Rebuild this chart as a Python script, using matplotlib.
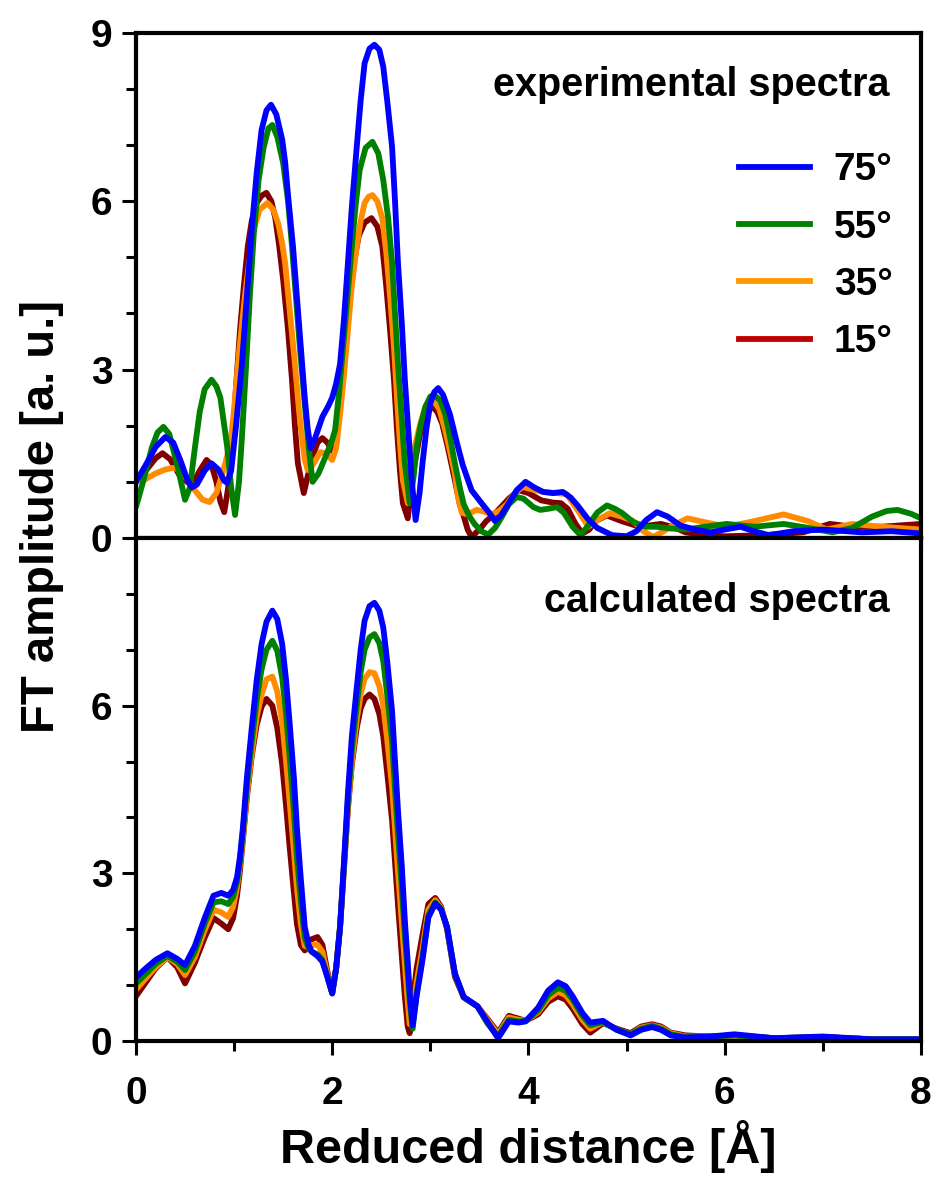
import matplotlib
matplotlib.use("Agg")
import matplotlib.pyplot as plt
from matplotlib.lines import Line2D
from matplotlib.ticker import MultipleLocator

plt.rcParams['font.family'] = ['Liberation Sans', 'DejaVu Sans']
plt.rcParams['font.weight'] = 'bold'

labels = ['75°', '55°', '35°', '15°']
curve_colors = ['#0000FF', '#008000', '#FF8C00', '#800000']
legend_colors = ['#0000FF', '#008000', '#FF9900', '#C00000']

# experimental spectra (top panel)
x_exp_75 = [0.0, 0.1, 0.2, 0.3, 0.38, 0.46, 0.52, 0.57, 0.62, 0.7, 0.77, 0.84, 0.9, 0.93, 0.97,
            1.02, 1.08, 1.13, 1.18, 1.23, 1.28, 1.33, 1.376, 1.43, 1.49, 1.52, 1.55, 1.6, 1.64,
            1.68, 1.72, 1.75, 1.78, 1.82, 1.9, 1.96, 2.0, 2.04, 2.08, 2.12, 2.16, 2.2, 2.25,
            2.29, 2.33, 2.38, 2.43, 2.48, 2.52, 2.56, 2.61, 2.64, 2.67, 2.71, 2.74, 2.78, 2.81,
            2.85, 2.89, 2.92, 2.96, 3.0, 3.04, 3.08, 3.13, 3.2, 3.27, 3.33, 3.42, 3.54, 3.6,
            3.66, 3.72, 3.8, 3.88, 3.97, 4.06, 4.15, 4.25, 4.35, 4.43, 4.5, 4.6, 4.7, 4.85,
            5.0, 5.1, 5.2, 5.31, 5.42, 5.55, 5.7, 5.85, 6.0, 6.16, 6.3, 6.45, 6.7, 7.0, 7.4,
            7.7, 8.0]
y_exp_75 = [1.0, 1.3, 1.62, 1.8, 1.7, 1.35, 1.05, 0.9, 0.95, 1.2, 1.33, 1.22, 1.02, 0.98, 1.2,
            2.0, 3.1, 4.3, 5.5, 6.5, 7.27, 7.62, 7.72, 7.55, 7.1, 6.7, 6.1, 5.2, 4.3,
            3.4, 2.5, 1.95, 1.6, 1.75, 2.16, 2.35, 2.5, 2.75, 3.1, 3.9, 4.9, 5.9, 6.97,
            7.8, 8.46, 8.72, 8.79, 8.7, 8.4, 7.8, 6.97, 6.0, 4.9, 3.8, 2.82, 1.8, 1.03,
            0.32, 0.8, 1.33, 1.95, 2.4, 2.6, 2.67, 2.55, 2.2, 1.7, 1.3, 0.85, 0.58, 0.45,
            0.3, 0.4, 0.62, 0.85, 1.0, 0.9, 0.82, 0.8, 0.82, 0.72, 0.58, 0.35, 0.18, 0.05,
            0.03, 0.12, 0.32, 0.46, 0.38, 0.22, 0.15, 0.1, 0.15, 0.2, 0.12, 0.05, 0.12, 0.15, 0.1,
            0.12, 0.08]

x_exp_55 = [0.0, 0.08, 0.16, 0.22, 0.28, 0.34, 0.42, 0.5, 0.55, 0.6, 0.65, 0.7, 0.77, 0.82, 0.86,
            0.9, 0.93, 0.97, 1.01, 1.05, 1.08, 1.12, 1.16, 1.2, 1.25, 1.3, 1.35, 1.39, 1.44,
            1.5, 1.55, 1.59, 1.63, 1.67, 1.72, 1.76, 1.8, 1.86, 1.93, 2.0, 2.03, 2.07, 2.11,
            2.16, 2.2, 2.24, 2.28, 2.34, 2.41, 2.47, 2.52, 2.57, 2.61, 2.64, 2.67, 2.71, 2.74,
            2.79, 2.83, 2.86, 2.9, 2.95, 3.0, 3.04, 3.1, 3.15, 3.2, 3.25, 3.3, 3.34, 3.4,
            3.45, 3.52, 3.59, 3.66, 3.72, 3.8, 3.88, 3.95, 4.05, 4.12, 4.2, 4.29, 4.36, 4.45,
            4.53, 4.6, 4.7, 4.8, 4.88, 4.95, 5.07, 5.2, 5.3, 5.45, 5.6, 5.8, 6.02, 6.3, 6.6,
            6.85, 7.1, 7.3, 7.5, 7.65, 7.76, 7.9, 8.0]
y_exp_55 = [0.55, 1.05, 1.6, 1.88, 1.98, 1.85, 1.3, 0.68, 0.9, 1.6, 2.25, 2.65, 2.82, 2.7, 2.5,
            2.0, 1.62, 0.9, 0.41, 1.0, 1.8, 3.0, 4.3, 5.4, 6.38, 6.95, 7.3, 7.36, 7.15,
            6.68, 6.0, 5.2, 4.3, 3.4, 2.4, 1.62, 1.0, 1.15, 1.44, 1.75, 1.93, 2.6, 3.4,
            4.4, 5.2, 5.95, 6.56, 6.95, 7.06, 6.85, 6.38, 5.7, 4.9, 4.0, 3.1, 2.1, 1.33,
            0.62, 1.1, 1.62, 2.0, 2.34, 2.52, 2.55, 2.45, 2.22, 1.8, 1.33, 0.9, 0.6, 0.38,
            0.25, 0.12, 0.06, 0.18, 0.35, 0.6, 0.73, 0.7, 0.55, 0.5, 0.52, 0.55, 0.45, 0.2,
            0.05, 0.2, 0.45, 0.58, 0.52, 0.45, 0.28, 0.2, 0.2, 0.17, 0.15, 0.2, 0.25, 0.2, 0.25,
            0.18, 0.1, 0.18, 0.38, 0.48, 0.5, 0.43, 0.35]

x_exp_35 = [0.0, 0.1, 0.2, 0.3, 0.38, 0.45, 0.52, 0.6, 0.68, 0.75, 0.82, 0.89, 0.95, 0.98, 1.0,
            1.05, 1.11, 1.16, 1.2, 1.26, 1.34, 1.4, 1.45, 1.49, 1.52, 1.57, 1.62, 1.66, 1.69,
            1.72, 1.75, 1.8, 1.88, 1.94, 2.0, 2.04, 2.08, 2.12, 2.16, 2.2, 2.25, 2.29, 2.33,
            2.37, 2.41, 2.46, 2.51, 2.55, 2.59, 2.63, 2.66, 2.69, 2.72, 2.77, 2.8, 2.84, 2.9,
            2.95, 3.0, 3.03, 3.09, 3.15, 3.2, 3.25, 3.28, 3.32, 3.38, 3.47, 3.55, 3.62, 3.7,
            3.78, 3.86, 3.94, 4.05, 4.15, 4.28, 4.39, 4.5, 4.61, 4.7, 4.83, 4.95, 5.07, 5.17,
            5.27, 5.36, 5.45, 5.62, 5.8, 6.02, 6.3, 6.6, 6.85, 7.04, 7.3, 7.6, 8.0]
y_exp_35 = [1.0, 1.05, 1.15, 1.22, 1.25, 1.2, 1.05, 0.85, 0.68, 0.64, 0.8, 1.2, 1.6, 1.95, 2.3,
            3.3, 4.3, 5.0, 5.5, 5.85, 5.97, 5.85, 5.6, 5.25, 4.9, 4.0, 3.1, 2.3, 1.8,
            1.4, 1.21, 1.3, 1.53, 1.5, 1.39, 1.6, 2.2, 2.9, 3.7, 4.5, 5.2, 5.65, 5.97,
            6.08, 6.11, 6.0, 5.7, 5.1, 4.3, 3.4, 2.5, 1.7, 1.03, 0.62, 1.0, 1.62, 2.05,
            2.34, 2.45, 2.46, 2.3, 1.93, 1.55, 1.15, 0.75, 0.45, 0.42, 0.5, 0.47, 0.42, 0.48,
            0.6, 0.8, 0.91, 0.86, 0.82, 0.8, 0.78, 0.5, 0.2, 0.32, 0.44, 0.38, 0.3, 0.12,
            0.02, 0.1, 0.2, 0.35, 0.28, 0.2, 0.3, 0.42, 0.3, 0.15, 0.25, 0.2, 0.15]

x_exp_15 = [0.0, 0.1, 0.2, 0.27, 0.35, 0.45, 0.57, 0.65, 0.72, 0.77, 0.82, 0.86, 0.9, 0.94, 0.99,
            1.02, 1.06, 1.1, 1.14, 1.18, 1.23, 1.28, 1.33, 1.38, 1.42, 1.46, 1.5, 1.55, 1.59,
            1.62, 1.65, 1.71, 1.75, 1.8, 1.85, 1.9, 1.95, 2.0, 2.05, 2.1, 2.14, 2.18, 2.22,
            2.27, 2.33, 2.4, 2.46, 2.51, 2.55, 2.59, 2.63, 2.66, 2.69, 2.72, 2.77, 2.8, 2.84,
            2.9, 2.95, 3.02, 3.07, 3.12, 3.18, 3.25, 3.3, 3.33, 3.38, 3.42, 3.5, 3.57, 3.65,
            3.72, 3.8, 3.9, 4.0, 4.13, 4.25, 4.33, 4.4, 4.48, 4.55, 4.62, 4.68, 4.8, 4.95,
            5.13, 5.35, 5.5, 5.6, 5.8, 6.0, 6.4, 6.8, 7.07, 7.3, 7.6, 8.0]
y_exp_15 = [1.0, 1.2, 1.42, 1.51, 1.4, 1.1, 0.93, 1.2, 1.39, 1.3, 1.0, 0.65, 0.46, 0.9, 1.8,
            2.7, 3.7, 4.5, 5.2, 5.65, 5.97, 6.1, 6.15, 6.0, 5.7, 5.2, 4.6, 3.7, 2.82,
            2.0, 1.33, 0.8, 1.1, 1.45, 1.7, 1.78, 1.7, 1.55, 2.1, 2.8, 3.6, 4.3, 4.9,
            5.38, 5.62, 5.7, 5.55, 5.2, 4.5, 3.7, 2.8, 1.93, 1.2, 0.62, 0.35, 0.8, 1.33,
            1.9, 2.22, 2.34, 2.25, 2.04, 1.6, 1.03, 0.6, 0.45, 0.15, 0.02, 0.15, 0.3, 0.42,
            0.55, 0.7, 0.85, 0.8, 0.67, 0.63, 0.62, 0.52, 0.25, 0.08, 0.15, 0.3, 0.4, 0.3,
            0.2, 0.25, 0.18, 0.1, 0.05, 0.03, 0.05, 0.1, 0.25, 0.2, 0.2, 0.25]

# calculated spectra (bottom panel)
x_calc = [0.0, 0.1, 0.2, 0.32, 0.42, 0.5, 0.6, 0.7, 0.79, 0.87, 0.94, 0.99, 1.03, 1.06, 1.09,
          1.13, 1.18, 1.23, 1.28, 1.33, 1.39, 1.44, 1.49, 1.53, 1.57, 1.61, 1.64, 1.68, 1.72,
          1.76, 1.79, 1.85, 1.9, 1.95, 2.0, 2.04, 2.08, 2.12, 2.16, 2.2, 2.25, 2.29, 2.33,
          2.38, 2.43, 2.48, 2.52, 2.56, 2.61, 2.64, 2.67, 2.71, 2.74, 2.77, 2.79, 2.82, 2.86,
          2.92, 2.98, 3.05, 3.11, 3.17, 3.25, 3.34, 3.48, 3.58, 3.69, 3.8, 3.9, 3.97, 4.1,
          4.2, 4.3, 4.38, 4.45, 4.55, 4.63, 4.76, 4.9, 5.04, 5.15, 5.26, 5.35, 5.45, 5.6,
          5.85, 6.1, 6.5, 7.0, 7.5, 8.0]
y_calc_75 = [1.14, 1.3, 1.45, 1.57, 1.47, 1.36, 1.7, 2.2, 2.6, 2.65, 2.6, 2.7, 2.93, 3.3, 3.82,
             4.7, 5.6, 6.45, 7.1, 7.5, 7.7, 7.55, 7.1, 6.45, 5.6, 4.7, 3.82, 2.9, 2.04,
             1.72, 1.6, 1.52, 1.42, 1.15, 0.85, 1.3, 2.04, 3.2, 4.43, 5.45, 6.32, 7.0, 7.52,
             7.78, 7.84, 7.7, 7.4, 6.8, 5.9, 5.0, 4.13, 3.1, 2.16, 1.4, 0.86, 0.28, 0.8,
             1.45, 2.21, 2.46, 2.35, 2.04, 1.21, 0.79, 0.62, 0.35, 0.05, 0.35, 0.33, 0.35, 0.6,
             0.9, 1.05, 0.98, 0.8, 0.5, 0.33, 0.36, 0.2, 0.1, 0.2, 0.25, 0.2, 0.1, 0.06,
             0.08, 0.12, 0.05, 0.08, 0.03, 0.03]
y_calc_55 = [1.03, 1.2, 1.38, 1.52, 1.42, 1.27, 1.6, 2.1, 2.48, 2.5, 2.45, 2.58, 2.85, 3.22, 3.75,
             4.55, 5.35, 6.1, 6.65, 7.0, 7.16, 6.98, 6.5, 5.85, 5.0, 4.1, 3.3, 2.5, 1.85,
             1.65, 1.6, 1.55, 1.45, 1.15, 0.85, 1.3, 2.04, 3.15, 4.3, 5.2, 6.0, 6.6, 7.0,
             7.22, 7.28, 7.12, 6.8, 6.2, 5.35, 4.5, 3.7, 2.7, 1.9, 1.2, 0.7, 0.22, 0.85,
             1.5, 2.25, 2.48, 2.36, 2.04, 1.2, 0.78, 0.62, 0.32, 0.08, 0.38, 0.35, 0.36, 0.55,
             0.82, 0.95, 0.9, 0.74, 0.45, 0.28, 0.34, 0.2, 0.12, 0.22, 0.27, 0.22, 0.12, 0.07,
             0.08, 0.1, 0.05, 0.07, 0.03, 0.03]
y_calc_35 = [0.92, 1.12, 1.32, 1.5, 1.38, 1.18, 1.5, 1.98, 2.35, 2.3, 2.22, 2.4, 2.75, 3.15, 3.65,
             4.4, 5.15, 5.8, 6.2, 6.47, 6.52, 6.25, 5.7, 5.0, 4.2, 3.4, 2.75, 2.1, 1.7,
             1.68, 1.72, 1.72, 1.6, 1.2, 0.86, 1.3, 2.04, 3.1, 4.2, 5.0, 5.75, 6.2, 6.48,
             6.6, 6.58, 6.35, 6.0, 5.4, 4.55, 3.8, 3.05, 2.1, 1.4, 0.7, 0.3, 0.5, 1.05,
             1.65, 2.35, 2.52, 2.38, 2.04, 1.2, 0.78, 0.62, 0.38, 0.12, 0.42, 0.38, 0.36, 0.52,
             0.76, 0.88, 0.82, 0.66, 0.38, 0.22, 0.34, 0.2, 0.12, 0.24, 0.28, 0.24, 0.14, 0.08,
             0.08, 0.1, 0.05, 0.07, 0.03, 0.03]
y_calc_15 = [0.8, 1.05, 1.3, 1.5, 1.32, 1.03, 1.4, 1.85, 2.2, 2.1, 2.0, 2.2, 2.6, 3.05, 3.6,
             4.35, 5.1, 5.65, 5.98, 6.12, 6.0, 5.6, 4.95, 4.2, 3.4, 2.65, 2.1, 1.72, 1.62,
             1.72, 1.82, 1.86, 1.72, 1.25, 0.86, 1.3, 2.04, 3.1, 4.15, 4.95, 5.6, 5.95, 6.12,
             6.2, 6.12, 5.85, 5.45, 4.8, 3.95, 3.2, 2.45, 1.5, 0.8, 0.25, 0.14, 0.7, 1.3,
             1.9, 2.45, 2.56, 2.4, 2.0, 1.15, 0.78, 0.62, 0.4, 0.15, 0.45, 0.4, 0.36, 0.48,
             0.7, 0.8, 0.74, 0.58, 0.3, 0.15, 0.32, 0.22, 0.14, 0.26, 0.3, 0.26, 0.15, 0.1,
             0.08, 0.1, 0.05, 0.07, 0.03, 0.03]

exp_x = [x_exp_75, x_exp_55, x_exp_35, x_exp_15]
exp_y = [y_exp_75, y_exp_55, y_exp_35, y_exp_15]
calc_y = [y_calc_75, y_calc_55, y_calc_35, y_calc_15]

fig = plt.figure(figsize=(9.39, 11.8), dpi=100)
ax1 = fig.add_axes([0.1448, 0.5441, 0.836, 0.4280])
ax2 = fig.add_axes([0.1448, 0.1178, 0.836, 0.4263])

# 15 deg first so that 75 deg lies on top
for i in reversed(range(4)):
    ax1.plot(exp_x[i], exp_y[i], color=curve_colors[i], lw=4.2,
             solid_joinstyle='round', solid_capstyle='round')
    ax2.plot(x_calc, calc_y[i], color=curve_colors[i], lw=4.2,
             solid_joinstyle='round', solid_capstyle='round')

for ax in (ax1, ax2):
    ax.set_xlim(0, 8)
    ax.set_ylim(0, 9)
    ax.xaxis.set_major_locator(MultipleLocator(2))
    ax.xaxis.set_minor_locator(MultipleLocator(1))
    ax.yaxis.set_minor_locator(MultipleLocator(1))
    for s in ax.spines.values():
        s.set_linewidth(3)
    ax.tick_params(which='both', direction='out', width=2.2, top=False, right=False,
                   labelsize=28)
    ax.tick_params(which='major', length=10)
    ax.tick_params(which='minor', length=7)
    ax.tick_params(axis='y', pad=7)
    ax.tick_params(axis='x', pad=15)

ax1.set_yticks([0, 3, 6, 9])
ax1.tick_params(axis='x', labelbottom=False)
ax2.set_yticks([0, 3, 6])

ax1.text(0.9605, 0.935, 'experimental spectra', transform=ax1.transAxes,
         ha='right', va='top', fontsize=28.5, fontweight='bold')
ax2.text(0.9605, 0.912, 'calculated spectra', transform=ax2.transAxes,
         ha='right', va='top', fontsize=28.5, fontweight='bold')

handles = [Line2D([], [], color=c, lw=4.2) for c in legend_colors]
ax1.legend(handles, labels, loc='upper right', bbox_to_anchor=(0.964, 0.764),
           frameon=False, fontsize=28, handlelength=1.83, handletextpad=0.62,
           labelspacing=0.55, borderpad=0, borderaxespad=0)

ax2.set_xlabel('Reduced distance [Å]', fontsize=35, fontweight='bold', labelpad=6)
fig.text(0.045, 0.562, 'FT amplitude [a. u.]', rotation=90, ha='center', va='center',
         fontsize=34, fontweight='bold')

fig.savefig('out.png', dpi=100)
